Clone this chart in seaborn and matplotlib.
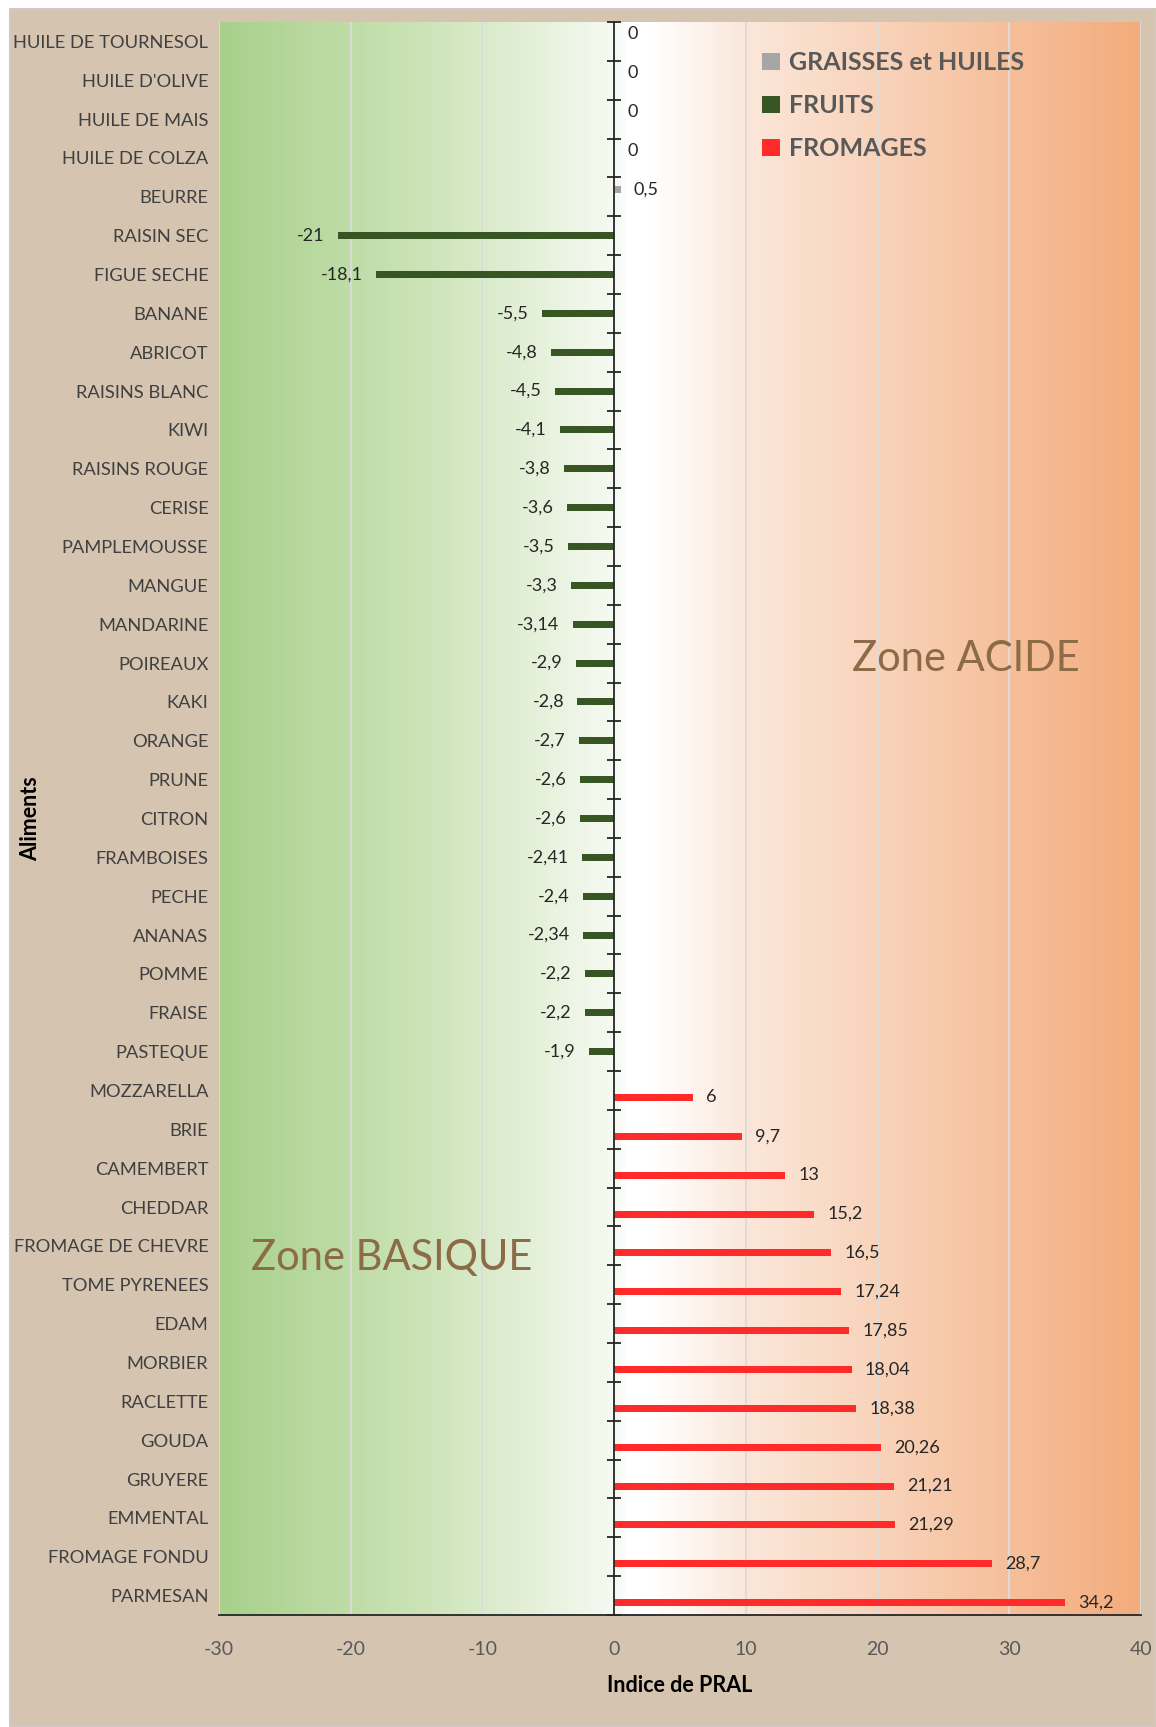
import numpy as np
import pandas as pd
import matplotlib
matplotlib.use("Agg")
import matplotlib.pyplot as plt
import seaborn as sns
from matplotlib.colors import LinearSegmentedColormap
from matplotlib.patches import Rectangle
from matplotlib.ticker import MultipleLocator, FixedLocator

# ---------------- data ----------------
graisses_foods = ["HUILE DE TOURNESOL", "HUILE D'OLIVE", "HUILE DE MAIS", "HUILE DE COLZA", "BEURRE"]
graisses_vals = [0, 0, 0, 0, 0.5]

fruits_foods = ["RAISIN SEC", "FIGUE SECHE", "BANANE", "ABRICOT", "RAISINS BLANC", "KIWI",
                "RAISINS ROUGE", "CERISE", "PAMPLEMOUSSE", "MANGUE", "MANDARINE", "POIREAUX",
                "KAKI", "ORANGE", "PRUNE", "CITRON", "FRAMBOISES", "PECHE", "ANANAS", "POMME",
                "FRAISE", "PASTEQUE"]
fruits_vals = [-21, -18.1, -5.5, -4.8, -4.5, -4.1, -3.8, -3.6, -3.5, -3.3, -3.14, -2.9,
               -2.8, -2.7, -2.6, -2.6, -2.41, -2.4, -2.34, -2.2, -2.2, -1.9]

fromages_foods = ["MOZZARELLA", "BRIE", "CAMEMBERT", "CHEDDAR", "FROMAGE DE CHEVRE",
                  "TOME PYRENEES", "EDAM", "MORBIER", "RACLETTE", "GOUDA", "GRUYERE",
                  "EMMENTAL", "FROMAGE FONDU", "PARMESAN"]
fromages_vals = [6, 9.7, 13, 15.2, 16.5, 17.24, 17.85, 18.04, 18.38, 20.26, 21.21, 21.29, 28.7, 34.2]

groups = ["GRAISSES et HUILES", "FRUITS", "FROMAGES"]
group_colors = ["#A6A6A6", "#375623", "#FF2B2B"]
x_ticks = [-30, -20, -10, 0, 10, 20, 30, 40]

# ---------------- frame ----------------
df = pd.DataFrame({
    "Aliment": graisses_foods + fruits_foods + fromages_foods,
    "PRAL": graisses_vals + fruits_vals + fromages_vals,
    "Groupe": [groups[0]] * len(graisses_foods) + [groups[1]] * len(fruits_foods)
              + [groups[2]] * len(fromages_foods),
})
order = graisses_foods + fruits_foods + fromages_foods
palette = dict(zip(groups, group_colors))

sns.set_style("white")
plt.rcParams["font.family"] = ["Lato", "DejaVu Sans"]
plt.rcParams["axes.unicode_minus"] = False

W, H = 1156, 1727
fig = plt.figure(figsize=(W / 100, H / 100), dpi=100, facecolor="white")
fig.patches.append(Rectangle((10 / W, 0), 1 - 10 / W, 1 - 9 / H, transform=fig.transFigure,
                             facecolor="#D5C4B0", edgecolor="#CFC9C2", lw=1.5, zorder=-10))

left, right, bottom, top = 219 / W, 1141 / W, 1 - 1615 / H, 1 - 22 / H
ax = fig.add_axes([left, bottom, right - left, top - bottom])
ax.set_facecolor("none")

# background gradient
cmap = LinearSegmentedColormap.from_list(
    "zone", [(0.0, "#A8D08B"), (15 / 70, "#CBE3B6"), (30 / 70, "#F6FAF2"),
             (31 / 70, "#FFFFFF"), (33 / 70, "#FFFFFF"), (40 / 70, "#FBE7DA"),
             (1.0, "#F3AC7C")])
grad = np.linspace(0, 1, 700).reshape(1, -1)
n = len(order)
ax.imshow(grad, extent=[-30, 40, n - 0.5, -0.5], aspect="auto", cmap=cmap, zorder=0,
          interpolation="bilinear")

# vertical gridlines
for xv in x_ticks:
    if xv != 0:
        ax.axvline(xv, color="#DCDCDC", lw=1.3, zorder=1)

sns.barplot(data=df, x="PRAL", y="Aliment", hue="Groupe", order=order, hue_order=groups,
            palette=palette, orient="h", width=0.54, dodge=True, saturation=1,
            linewidth=0, ax=ax, legend=True, zorder=3)

ax.set_xlim(-30, 40)
ax.set_ylim(n - 0.5, -0.5)

# value labels
def fmt(v):
    s = f"{v:.2f}".rstrip("0").rstrip(".")
    if s in ("-0", ""):
        s = "0"
    return s.replace(".", ",")

for cont in ax.containers:
    labels = [fmt(b.get_width()) for b in cont]
    ax.bar_label(cont, labels=labels, padding=9.5, fontsize=13, color="#262626", zorder=5)

# axes styling
for s in ["top", "right", "left"]:
    ax.spines[s].set_visible(False)
ax.spines["bottom"].set_color("#262626")
ax.spines["bottom"].set_linewidth(1.3)

ax.xaxis.set_major_locator(FixedLocator(x_ticks))
ax.xaxis.set_minor_locator(MultipleLocator(2))
ax.tick_params(axis="x", which="major", direction="inout", length=14, width=1.3,
               color="#262626", labelsize=14, labelcolor="#595959", pad=12)
ax.tick_params(axis="x", which="minor", direction="inout", length=9, width=1.2,
               color="#262626")
ax.tick_params(axis="y", length=0, labelsize=13.2, labelcolor="#404040", pad=7.6)

# vertical axis at x = 0 with category separators
sec = ax.secondary_yaxis(30 / 70)
sec.set_yticks(np.arange(-0.5, n, 1.0))
sec.set_yticklabels([])
sec.tick_params(direction="inout", length=10, width=1.3, color="#262626")
sec.spines["left"].set_color("#262626")
sec.spines["left"].set_linewidth(1.3)
sec.set_zorder(6)

ax.set_xlabel("Indice de PRAL", fontsize=15.5, fontweight="bold", color="black", labelpad=12)
ax.set_ylabel("Aliments", fontsize=15.5, fontweight="bold", color="black")
ax.yaxis.set_label_coords(-0.193, 0.5)

# zone texts
ax.text(26.7, 15.9, "Zone ACIDE", fontsize=30, color="#8C6B47", ha="center", va="center", zorder=4)
ax.text(-16.9, 31.3, "Zone BASIQUE", fontsize=30, color="#8C6B47", ha="center", va="center", zorder=4)

# legend
leg = ax.legend(loc="upper left", bbox_to_anchor=(0.589, 0.9815), frameon=False,
                fontsize=18, handlelength=0.7, handleheight=0.7, handletextpad=0.38,
                labelspacing=0.8, borderaxespad=0, borderpad=0)
for t in leg.get_texts():
    t.set_color("#595959")
    t.set_fontweight("bold")

fig.savefig("out.png", dpi=100, facecolor=fig.get_facecolor())
